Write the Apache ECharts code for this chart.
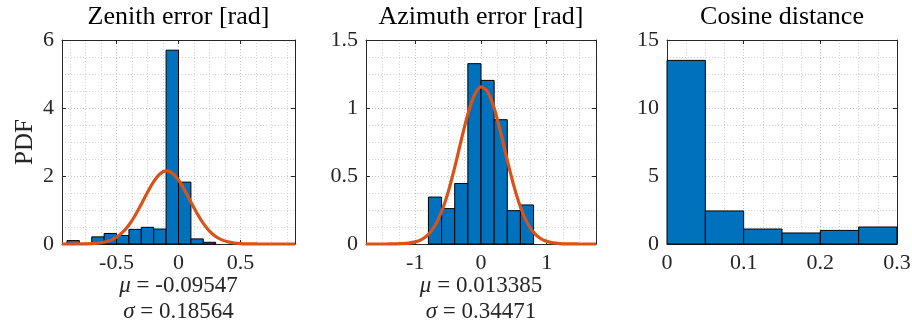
<!DOCTYPE html>
<html>
<head>
<meta charset="utf-8">
<script src="https://cdn.jsdelivr.net/npm/echarts@6/dist/echarts.min.js"></script>
<style>
html,body{margin:0;padding:0;background:#fff;}
#c{width:912px;height:332px;}
</style>
</head>
<body>
<div id="c"></div>
<script>
// ---------- data ----------
const titles = ['Zenith error [rad]', 'Azimuth error [rad]', 'Cosine distance'];
const yLabel = 'PDF';

const zenithEdges = [-0.9, -0.8, -0.7, -0.6, -0.5, -0.4, -0.3, -0.2, -0.1, 0, 0.1, 0.2, 0.3];
const zenithPdf = [0.1, 0, 0.21, 0.31, 0.25, 0.43, 0.49, 0.44, 5.7, 1.82, 0.15, 0.05];
const zenithFitX = [-0.94, -0.9, -0.85, -0.8, -0.75, -0.7, -0.65, -0.6, -0.55, -0.5, -0.45, -0.4, -0.35, -0.3, -0.25, -0.2, -0.15, -0.1, -0.05, 0, 0.05, 0.1, 0.15, 0.2, 0.25, 0.3, 0.35, 0.4, 0.45, 0.5, 0.55, 0.6, 0.65, 0.7, 0.75, 0.8, 0.85, 0.9, 0.94];
const zenithFitY = [0, 0.0002, 0.0006, 0.0016, 0.0043, 0.0107, 0.0248, 0.0534, 0.107, 0.200, 0.347, 0.560, 0.839, 1.171, 1.520, 1.834, 2.058, 2.148, 2.085, 1.883, 1.581, 1.234, 0.897, 0.606, 0.380, 0.222, 0.121, 0.061, 0.0287, 0.0125, 0.0051, 0.0019, 0.0007, 0.0002, 0.0001, 0, 0, 0, 0];
const zenithMu = '-0.09547';
const zenithSigma = '0.18564';

const azimuthEdges = [-0.8, -0.6, -0.4, -0.2, 0, 0.2, 0.4, 0.6, 0.8];
const azimuthPdf = [0.345, 0.26, 0.445, 1.326, 1.203, 0.914, 0.245, 0.287];
const azimuthFitX = [-1.75, -1.6, -1.5, -1.4, -1.3, -1.2, -1.1, -1.0, -0.9, -0.8, -0.7, -0.6, -0.5, -0.4, -0.3, -0.2, -0.1, 0, 0.1, 0.2, 0.3, 0.4, 0.5, 0.6, 0.7, 0.8, 0.9, 1.0, 1.1, 1.2, 1.3, 1.4, 1.5, 1.6, 1.75];
const azimuthFitY = [0, 0, 0.0001, 0.0003, 0.0008, 0.0024, 0.0063, 0.0154, 0.0346, 0.0714, 0.136, 0.2376, 0.3817, 0.5637, 0.7654, 0.9552, 1.096, 1.156, 1.121, 0.9993, 0.8188, 0.6168, 0.4270, 0.2719, 0.1591, 0.0856, 0.0423, 0.0193, 0.0080, 0.0031, 0.0011, 0.0004, 0.0001, 0, 0];
const azimuthMu = '0.013385';
const azimuthSigma = '0.34471';

const cosineEdges = [0, 0.05, 0.1, 0.15, 0.2, 0.25, 0.3];
const cosinePdf = [13.5, 2.43, 1.1, 0.81, 1.0, 1.25];

// ---------- helpers ----------
const FONT = '"Liberation Serif", "Times New Roman", serif';
const TXT = '#262626';
const AX = '#262626';

function binsToData(edges, vals) {
  return vals.map((v, i) => [edges[i], edges[i + 1], v]);
}
function zipXY(xs, ys) { return xs.map((x, i) => [x, ys[i]]); }

function histItem(params, api) {
  const p0 = api.coord([api.value(0), 0]);
  const p1 = api.coord([api.value(1), api.value(2)]);
  return {
    type: 'rect',
    shape: { x: p0[0], y: p1[1], width: p1[0] - p0[0], height: p0[1] - p1[1] },
    style: { fill: '#0072BD', stroke: '#000000', lineWidth: 1 }
  };
}

const gridLine = { show: true, lineStyle: { color: '#c4c4c4', width: 1, type: [1, 2] } };
const minorGridLine = { show: true, lineStyle: { color: '#d4d4d4', width: 1, type: [1, 2] } };

const grids = [
  { left: 62, top: 40, width: 233, height: 204, outerBoundsMode: 'none', containLabel: false },
  { left: 366, top: 40, width: 230, height: 204, outerBoundsMode: 'none', containLabel: false },
  { left: 667, top: 40, width: 230, height: 204, outerBoundsMode: 'none', containLabel: false }
];

const xCfg = [
  { min: -0.94, max: 0.94, splitNumber: 4, hideEnds: true },
  { min: -1.75, max: 1.75, splitNumber: 3, hideEnds: true },
  { min: 0, max: 0.3, interval: 0.1, hideEnds: false }
];
const yCfg = [
  { min: 0, max: 6, interval: 2 },
  { min: 0, max: 1.5, interval: 0.5 },
  { min: 0, max: 15, interval: 5 }
];
const xNames = [
  '{i|μ} = ' + zenithMu + '\n{i|σ} = ' + zenithSigma,
  '{i|μ} = ' + azimuthMu + '\n{i|σ} = ' + azimuthSigma,
  ''
];

const xAxes = [], yAxes = [];
grids.forEach((g, i) => {
  const xc = xCfg[i], yc = yCfg[i];
  const xBase = { type: 'value', gridIndex: i, min: xc.min, max: xc.max };
  if (xc.interval) xBase.interval = xc.interval; else xBase.splitNumber = xc.splitNumber;
  xAxes.push(Object.assign({}, xBase, {
    position: 'bottom',
    axisLine: { show: true, onZero: false, lineStyle: { color: AX, width: 1 } },
    axisTick: { show: true, inside: true, length: 4, lineStyle: { color: AX } },
    axisLabel: { show: true, margin: 8, color: TXT, fontFamily: FONT, fontSize: 22,
      showMinLabel: !xc.hideEnds, showMaxLabel: !xc.hideEnds,
      formatter: v => String(+v.toFixed(4)) },
    splitLine: gridLine,
    minorTick: { show: false, splitNumber: 4 },
    minorSplitLine: minorGridLine,
    name: xNames[i],
    nameLocation: 'middle',
    nameGap: 29,
    nameMoveOverlap: false,
    nameTextStyle: { color: TXT, fontFamily: FONT, fontSize: 23, lineHeight: 26,
      rich: { i: { fontStyle: 'italic', fontFamily: FONT, fontSize: 23, color: TXT, lineHeight: 26 } } }
  }));
  xAxes.push(Object.assign({}, xBase, {
    position: 'top',
    axisLine: { show: true, onZero: false, lineStyle: { color: AX, width: 1 } },
    axisTick: { show: true, inside: true, length: 4, lineStyle: { color: AX } },
    axisLabel: { show: false },
    splitLine: { show: false }
  }));
  const yBase = { type: 'value', gridIndex: i, min: yc.min, max: yc.max, interval: yc.interval };
  yAxes.push(Object.assign({}, yBase, {
    position: 'left',
    axisLine: { show: true, onZero: false, lineStyle: { color: AX, width: 1 } },
    axisTick: { show: true, inside: true, length: 4, lineStyle: { color: AX } },
    axisLabel: { show: true, margin: 8, color: TXT, fontFamily: FONT, fontSize: 22 },
    splitLine: gridLine,
    minorTick: { show: false, splitNumber: 4 },
    minorSplitLine: minorGridLine,
    name: i === 0 ? yLabel : '',
    nameLocation: 'middle',
    nameGap: 24,
    nameMoveOverlap: false,
    nameTextStyle: { color: TXT, fontFamily: FONT, fontSize: 25 }
  }));
  yAxes.push(Object.assign({}, yBase, {
    position: 'right',
    axisLine: { show: true, onZero: false, lineStyle: { color: AX, width: 1 } },
    axisTick: { show: true, inside: true, length: 4, lineStyle: { color: AX } },
    axisLabel: { show: false },
    splitLine: { show: false }
  }));
});

const hists = [
  binsToData(zenithEdges, zenithPdf),
  binsToData(azimuthEdges, azimuthPdf),
  binsToData(cosineEdges, cosinePdf)
];
const fits = [zipXY(zenithFitX, zenithFitY), zipXY(azimuthFitX, azimuthFitY), null];

const series = [];
hists.forEach((d, i) => {
  series.push({
    type: 'custom', xAxisIndex: 2 * i, yAxisIndex: 2 * i,
    renderItem: histItem, encode: { x: [0, 1], y: 2 }, data: d, z: 2
  });
  if (fits[i]) {
    series.push({
      type: 'line', xAxisIndex: 2 * i, yAxisIndex: 2 * i, data: fits[i],
      showSymbol: false, symbol: 'none', smooth: 0.3, clip: false,
      lineStyle: { color: '#D95319', width: 3.2 }, z: 3
    });
  }
});

const titleOpts = grids.map((g, i) => ({
  text: titles[i],
  left: g.left + g.width / 2,
  top: 4,
  textAlign: 'center',
  padding: 0,
  textStyle: { color: '#000', fontFamily: FONT, fontSize: 26, fontWeight: 'normal' }
}));

const chart = echarts.init(document.getElementById('c'), null, { renderer: 'canvas' });
chart.setOption({
  animation: false,
  backgroundColor: '#ffffff',
  title: titleOpts,
  grid: grids,
  xAxis: xAxes,
  yAxis: yAxes,
  series: series
});
</script>
</body>
</html>
